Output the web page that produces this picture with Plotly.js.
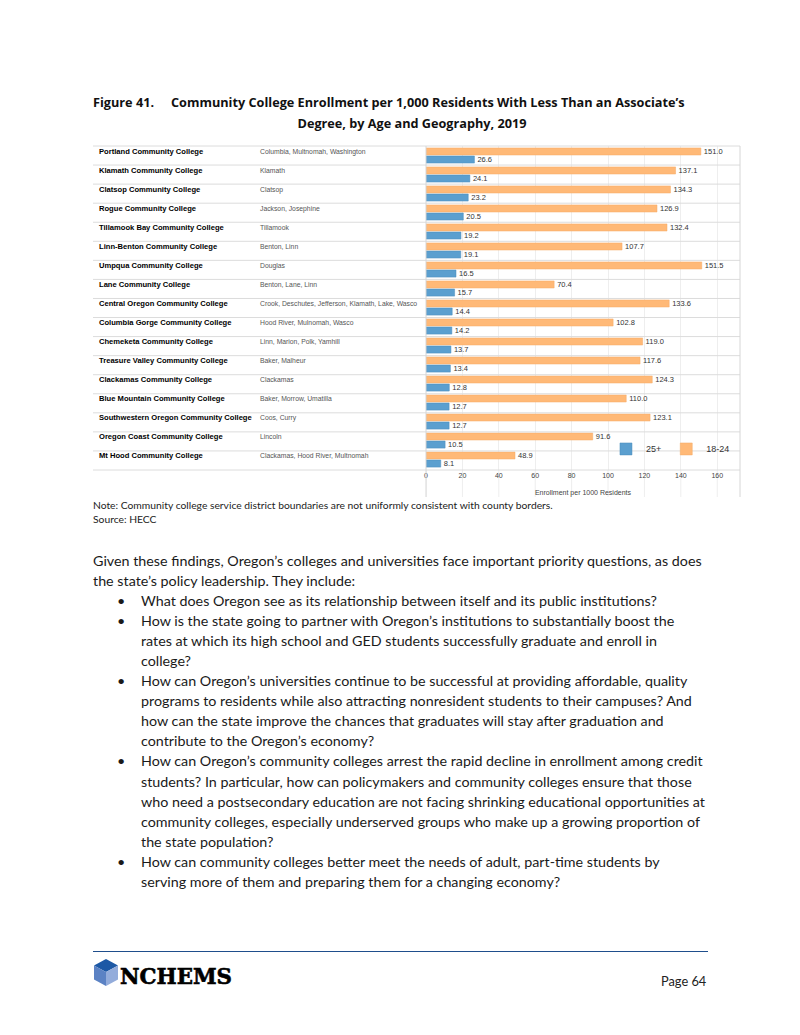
<!DOCTYPE html>
<html>
<head>
<meta charset="utf-8">
<script src="https://cdn.plot.ly/plotly-3.0.1.min.js"></script>
<style>
  html, body { margin:0; padding:0; background:#fff; }
  #page { position:relative; width:800px; height:1035px; overflow:hidden; background:#fff; color:#1a1a1a; font-family:"Lato","Open Sans",sans-serif; }
  .abs { position:absolute; white-space:nowrap; }
  .title { font-family:"Open Sans",sans-serif; font-weight:700; font-size:12.7px; color:#111; }
  .note { font-family:"Lato",sans-serif; font-size:10.3px; color:#222; }
  #body { position:absolute; left:93px; top:551px; width:660px; font-family:"Lato",sans-serif; font-size:14.3px; line-height:20.06px; color:#1a1a1a; }
  #body div { white-space:nowrap; height:20.06px; }
  #body .ind { padding-left:48px; position:relative; }
  #body .dot { position:absolute; left:24px; top:0; }
  #chart { position:absolute; left:93px; top:143px; width:648px; height:357px; }
</style>
</head>
<body>
<div id="page">
  <div class="abs title" style="left:93px; top:93px;">Figure 41.<span style="display:inline-block; width:17px;"></span>Community College Enrollment per 1,000 Residents With Less Than an Associate’s</div>
  <div class="abs title" style="left:412px; top:114px; transform:translateX(-50%);">Degree, by Age and Geography, 2019</div>

  <div id="chart"></div>

  <div class="abs note" style="left:93px; top:499px;">Note: Community college service district boundaries are not uniformly consistent with county borders.</div>
  <div class="abs note" style="left:93px; top:513px;">Source: HECC</div>

  <div id="body">
    <div>Given these findings, Oregon’s colleges and universities face important priority questions, as does</div>
    <div>the state’s policy leadership. They include:</div>
    <div class="ind"><span class="dot">•</span>What does Oregon see as its relationship between itself and its public institutions?</div>
    <div class="ind"><span class="dot">•</span>How is the state going to partner with Oregon’s institutions to substantially boost the</div>
    <div class="ind">rates at which its high school and GED students successfully graduate and enroll in</div>
    <div class="ind">college?</div>
    <div class="ind"><span class="dot">•</span>How can Oregon’s universities continue to be successful at providing affordable, quality</div>
    <div class="ind">programs to residents while also attracting nonresident students to their campuses? And</div>
    <div class="ind">how can the state improve the chances that graduates will stay after graduation and</div>
    <div class="ind">contribute to the Oregon’s economy?</div>
    <div class="ind"><span class="dot">•</span>How can Oregon’s community colleges arrest the rapid decline in enrollment among credit</div>
    <div class="ind">students? In particular, how can policymakers and community colleges ensure that those</div>
    <div class="ind">who need a postsecondary education are not facing shrinking educational opportunities at</div>
    <div class="ind">community colleges, especially underserved groups who make up a growing proportion of</div>
    <div class="ind">the state population?</div>
    <div class="ind"><span class="dot">•</span>How can community colleges better meet the needs of adult, part-time students by</div>
    <div class="ind">serving more of them and preparing them for a changing economy?</div>
  </div>

  <div class="abs" style="left:93px; top:951px; width:615px; height:0; border-top:1.5px solid #1f4e8c;"></div>
  <svg class="abs" style="left:93px; top:958px;" width="145" height="30" viewBox="0 0 145 30">
    <polygon points="13,1 25,7.5 13,14 1,7.5" fill="#1c58a5"/>
    <polygon points="1,7.5 13,14 13,28 1,21.5" fill="#5b82c4"/>
    <polygon points="13,14 25,7.5 25,21.5 13,28" fill="#93acdb"/>
    <text x="27" y="25.5" font-family="DejaVu Serif" font-weight="900" font-size="22" fill="#000" stroke="#000" stroke-width="0.6" textLength="112" lengthAdjust="spacingAndGlyphs">NCHEMS</text>
  </svg>
  <div class="abs" style="left:661px; top:973px; font-family:'Lato',sans-serif; font-size:12.8px; color:#222;">Page 64</div>
</div>

<script>
// ---- Data ----
const colleges = [
  "Portland Community College",
  "Klamath Community College",
  "Clatsop Community College",
  "Rogue Community College",
  "Tillamook Bay Community College",
  "Linn-Benton Community College",
  "Umpqua Community College",
  "Lane Community College",
  "Central Oregon Community College",
  "Columbia Gorge Community College",
  "Chemeketa Community College",
  "Treasure Valley Community College",
  "Clackamas Community College",
  "Blue Mountain Community College",
  "Southwestern Oregon Community College",
  "Oregon Coast Community College",
  "Mt Hood Community College"
];
const counties = [
  "Columbia, Multnomah, Washington",
  "Klamath",
  "Clatsop",
  "Jackson, Josephine",
  "Tillamook",
  "Benton, Linn",
  "Douglas",
  "Benton, Lane, Linn",
  "Crook, Deschutes, Jefferson, Klamath, Lake, Wasco",
  "Hood River, Mulnomah, Wasco",
  "Linn, Marion, Polk, Yamhill",
  "Baker, Malheur",
  "Clackamas",
  "Baker, Morrow, Umatilla",
  "Coos, Curry",
  "Lincoln",
  "Clackamas, Hood River, Multnomah"
];
const age18to24 = [151.0, 137.1, 134.3, 126.9, 132.4, 107.7, 151.5, 70.4, 133.6, 102.8, 119.0, 117.6, 124.3, 110.0, 123.1, 91.6, 48.9];
const age25plus = [26.6, 24.1, 23.2, 20.5, 19.2, 19.1, 16.5, 15.7, 14.4, 14.2, 13.7, 13.4, 12.8, 12.7, 12.7, 10.5, 8.1];
const xTicks = [0, 20, 40, 60, 80, 100, 120, 140, 160];
const seriesNames = ["18-24", "25+"];
const xTitle = "Enrollment per 1000 Residents";

// ---- Styling / layout ----
const ORANGE = "#ffb977";
const BLUE = "#5b9fcf";
const W = 648, H = 357, ML = 333, MR = 1, MT = 3, MB = 30;
const plotW = W - ML - MR, plotH = H - MT - MB;
const n = colleges.length;

const labelFont = {family: "Liberation Sans, Arial, sans-serif", size: 7.5, color: "#333"};

const traces = [
  {
    type: "bar", orientation: "h", name: seriesNames[0],
    y: colleges, x: age18to24,
    marker: {color: ORANGE, line: {color: "#f5ab66", width: 0.5}},
    text: age18to24.map(v => v.toFixed(1)), textposition: "outside",
    textfont: labelFont, constraintext: "none", cliponaxis: false,
    legendrank: 2, hoverinfo: "x+y"
  },
  {
    type: "bar", orientation: "h", name: seriesNames[1],
    y: colleges, x: age25plus,
    marker: {color: BLUE, line: {color: "#4a8cbd", width: 0.5}},
    text: age25plus.map(v => v.toFixed(1)), textposition: "outside",
    textfont: labelFont, constraintext: "none", cliponaxis: false,
    legendrank: 1, hoverinfo: "x+y"
  }
];

const shapes = [];
// row separator lines across full width
for (let i = 0; i <= n; i++) {
  shapes.push({type: "line", xref: "paper", yref: "paper",
    x0: -ML / plotW, x1: 1, y0: 1 - i / n, y1: 1 - i / n,
    line: {color: "#dcdcdc", width: 1}});
}
// gridlines continuing through tick label band
xTicks.forEach(t => {
  shapes.push({type: "line", xref: "x", yref: "paper", x0: t, x1: t,
    y0: -27 / plotH, y1: 0, line: {color: "#eeeeee", width: 1}, layer: "below"});
});
// left and right borders
[0, 1].forEach(px => {
  shapes.push({type: "line", xref: "paper", yref: "paper", x0: px, x1: px,
    y0: -27 / plotH, y1: 1, line: {color: "#d6d6d6", width: 1}});
});

const annotations = [];
colleges.forEach((c, i) => {
  annotations.push({xref: "paper", yref: "y", x: (97 - 93 - ML) / plotW, y: c,
    text: "<b>" + c + "</b>", showarrow: false, xanchor: "left", yanchor: "middle", yshift: 4,
    font: {family: "Liberation Sans, Arial, sans-serif", size: 7.6, color: "#000"}});
  annotations.push({xref: "paper", yref: "y", x: (258 - 93 - ML) / plotW, y: c,
    text: counties[i], showarrow: false, xanchor: "left", yanchor: "middle", yshift: 4,
    font: {family: "Liberation Sans, Arial, sans-serif", size: 6.8, color: "#555"}});
});

const layout = {
  width: W, height: H,
  margin: {l: ML, r: MR, t: MT, b: MB, pad: 0},
  paper_bgcolor: "#fff", plot_bgcolor: "#fff",
  barmode: "group", bargap: 0.15, bargroupgap: 0.12,
  showlegend: true,
  legend: {orientation: "h", x: 0.984, xanchor: "right", y: 0.065, yanchor: "middle",
    bgcolor: "rgba(255,255,255,0)", font: {family: "Liberation Sans, Arial, sans-serif", size: 9, color: "#333"},
    itemwidth: 30},
  xaxis: {range: [0, 172.5], tickvals: xTicks, ticktext: xTicks.map(String),
    showgrid: true, gridcolor: "#eeeeee", zeroline: false, showline: false, ticks: "",
    tickfont: {family: "Liberation Sans, Arial, sans-serif", size: 7, color: "#444"},
    title: {text: xTitle, font: {family: "Liberation Sans, Arial, sans-serif", size: 7, color: "#444"}, standoff: 12},
    fixedrange: true},
  yaxis: {type: "category", categoryorder: "array", categoryarray: colleges,
    autorange: "reversed", showticklabels: false, showgrid: false, zeroline: false,
    showline: false, ticks: "", fixedrange: true},
  shapes: shapes,
  annotations: annotations,
  font: {family: "Liberation Sans, Arial, sans-serif"}
};

Plotly.newPlot("chart", traces, layout, {displayModeBar: false, staticPlot: true});
</script>
</body>
</html>
